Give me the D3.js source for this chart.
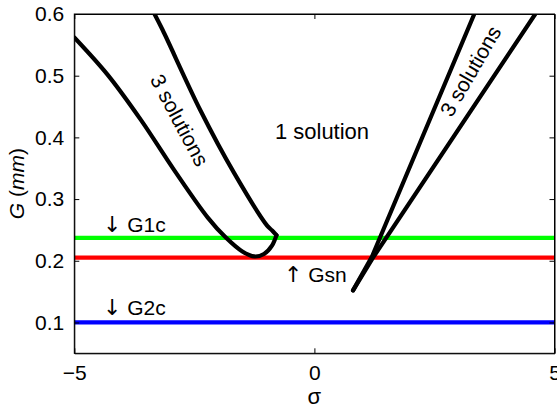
<!DOCTYPE html>
<html>
<head>
<meta charset="utf-8">
<script src="https://cdn.jsdelivr.net/npm/d3@7"></script>
<style>
  body { margin: 0; background: #fff; }
  text { font-family: "Liberation Sans", Arial, sans-serif; }
</style>
</head>
<body>
<svg id="chart"></svg>
<script>
// data
let xTicks = [-5, 0, 5];
let yTicks = [0.1, 0.2, 0.3, 0.4, 0.5, 0.6];

// critical G levels (horizontal lines)
let levelNames = ["G1c", "Gsn", "G2c"];
let levelValues = [0.237, 0.205, 0.1];
let levelColors = ["#00ff00", "#ff0000", "#0000ff"];

// left boundary curve, lower branch then upper branch (meeting at the cusp)
let leftLower = [[-5, 0.562], [-4.3, 0.501], [-3.61, 0.428], [-2.92, 0.347], [-2.22, 0.27],
                 [-1.85, 0.238], [-1.5, 0.215], [-1.25, 0.207], [-1.05, 0.211],
                 [-0.88, 0.225], [-0.79, 0.2415]];
let leftUpper = [[-0.79, 0.2415], [-0.88, 0.249], [-0.985, 0.257], [-1.67, 0.342],
                 [-2.375, 0.444], [-3.16, 0.574], [-3.33, 0.6]];

// right boundary curve, two branches from the tip
let rightA = [[0.805, 0.152], [1.2, 0.207], [3.33, 0.6]];
let rightB = [[0.805, 0.152], [1.22, 0.205], [4.6, 0.6]];

let w = 557, h = 409;
let margin = {left: 74.3, right: 2.5, top: 14, bottom: 55.7};

let svg = d3.select("#chart")
            .attr("width", w)
            .attr("height", h);

let x = d3.scaleLinear().domain([-5, 5]).range([margin.left, w - margin.right]);
let y = d3.scaleLinear().domain([0.05, 0.6]).range([h - margin.bottom, margin.top]);

svg.append("clipPath").attr("id", "clip")
   .append("rect")
   .attr("x", x(-5)).attr("y", y(0.6))
   .attr("width", x(5) - x(-5)).attr("height", y(0.05) - y(0.6));

let plot = svg.append("g").attr("clip-path", "url(#clip)");

// horizontal level lines
plot.selectAll("line.level")
    .data(levelValues)
    .enter()
    .append("line")
    .attr("class", "level")
    .attr("x1", x(-5)).attr("x2", x(5))
    .attr("y1", d => y(d)).attr("y2", d => y(d))
    .attr("stroke", (d, i) => levelColors[i])
    .attr("stroke-width", 4.2);

let smooth = d3.line().x(d => x(d[0])).y(d => y(d[1])).curve(d3.curveCatmullRom);
let straight = d3.line().x(d => x(d[0])).y(d => y(d[1]));

plot.selectAll("path.curve")
    .data([leftLower, leftUpper])
    .enter()
    .append("path")
    .attr("d", smooth)
    .attr("fill", "none")
    .attr("stroke", "black")
    .attr("stroke-width", 4.2)
    .attr("stroke-linecap", "round")
    .attr("stroke-linejoin", "round");

plot.selectAll("path.right")
    .data([rightA, rightB])
    .enter()
    .append("path")
    .attr("d", straight)
    .attr("fill", "none")
    .attr("stroke", "black")
    .attr("stroke-width", 4.2)
    .attr("stroke-linecap", "round")
    .attr("stroke-linejoin", "round");

// axes, ticks pointing inward on all four sides
let fmt = d => d3.format("")(d).replace("-", "\u2013");
svg.append("g")
   .attr("transform", `translate(0,${y(0.05)})`)
   .call(d3.axisBottom(x).tickValues(xTicks).tickSizeInner(-5).tickSizeOuter(0).tickPadding(12).tickFormat(fmt));
svg.append("g")
   .attr("transform", `translate(0,${y(0.6)})`)
   .call(d3.axisTop(x).tickValues(xTicks).tickSizeInner(-5).tickSizeOuter(0).tickFormat(""));
svg.append("g")
   .attr("transform", `translate(${x(-5)},0)`)
   .call(d3.axisLeft(y).tickValues(yTicks).tickSizeInner(-5).tickSizeOuter(0).tickPadding(10).tickFormat(d3.format(".1f")));
svg.append("g")
   .attr("transform", `translate(${x(5)},0)`)
   .call(d3.axisRight(y).tickValues(yTicks).tickSizeInner(-5).tickSizeOuter(0).tickFormat(""));

svg.selectAll(".tick text").attr("font-size", 21).attr("fill", "#000")
   .attr("font-family", "'Liberation Sans', Arial, sans-serif");
svg.selectAll(".domain").attr("stroke", "#000");
svg.selectAll(".tick line").attr("stroke", "#000");

svg.append("rect")
   .attr("x", x(-5)).attr("y", y(0.6))
   .attr("width", x(5) - x(-5)).attr("height", y(0.05) - y(0.6))
   .attr("fill", "none").attr("stroke", "#000").attr("stroke-width", 1);

// axis labels
svg.append("text")
   .attr("x", x(0)).attr("y", 404)
   .attr("text-anchor", "middle")
   .attr("font-size", 22)
   .text("σ");

let yl = svg.append("text")
   .attr("transform", `translate(24,${(y(0.05) + y(0.6)) / 2}) rotate(-90)`)
   .attr("text-anchor", "middle")
   .attr("font-size", 21);
yl.append("tspan").attr("font-style", "italic").text("G");
yl.append("tspan").text(" (");
yl.append("tspan").attr("font-style", "italic").text("mm");
yl.append("tspan").text(")");

// annotations
function note(tx, ty, arrow, label) {
  let t = svg.append("text").attr("x", tx).attr("y", ty).attr("font-size", 21);
  t.append("tspan").attr("font-family", "'DejaVu Sans', sans-serif").attr("font-size", 22).text(arrow);
  t.append("tspan").text(" " + label);
}
note(103, 232, "\u2193", levelNames[0]);
note(103, 315, "\u2193", levelNames[2]);
note(284, 282, "\u2191", levelNames[1]);

svg.append("text").attr("x", 322).attr("y", 139).attr("text-anchor", "middle").attr("font-size", 22).text("1 solution");
svg.append("text")
   .attr("transform", "translate(178,121) rotate(62)")
   .attr("text-anchor", "middle").attr("dominant-baseline", "middle")
   .attr("font-size", 21).text("3 solutions");
svg.append("text")
   .attr("transform", "translate(472,72) rotate(-60)")
   .attr("text-anchor", "middle").attr("dominant-baseline", "middle")
   .attr("font-size", 21).text("3 solutions");
</script>
</body>
</html>
